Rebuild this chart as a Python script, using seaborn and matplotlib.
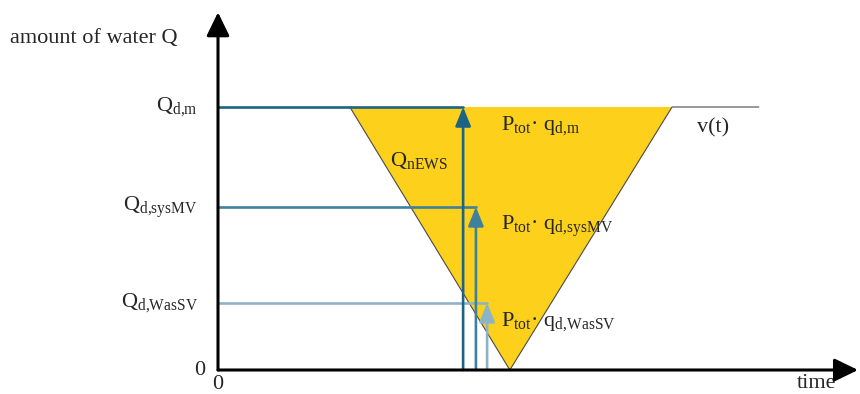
import matplotlib.pyplot as plt
import numpy as np
import pandas as pd
import seaborn as sns

# demand levels on the Q axis (Q_d,m scaled to 10)
level_names = ["d{,}m", "d{,}sysMV", "d{,}WasSV"]
level_q = [10.0, 6.2, 2.55]
level_t = [7.66, 8.06, 8.41]          # time of the vertical arrow for each level
level_colors = ["#1d6482", "#3f809c", "#8db4c6"]

# v(t): falls to zero and rises back again
vt_t = [4.12, 9.12, 14.19, 16.9]
vt_q = [10.0, 0.0, 10.0, 10.0]

t_end = 20.0
q_top = 13.6

sns.set_style("white")
plt.rcParams["font.family"] = ["Liberation Serif", "DejaVu Serif"]
plt.rcParams["mathtext.fontset"] = "custom"
plt.rcParams["mathtext.rm"] = "Liberation Serif"
plt.rcParams["mathtext.it"] = "Liberation Serif:italic"

fig = plt.figure(figsize=(8.6, 3.94), dpi=100)
ax = fig.add_axes([0, 0, 1, 1])
ax.set_xlim(-6.8125, 20.0625)
ax.set_ylim(-0.9125, 14.068)
ax.axis("off")

# yellow triangle under the top level
ax.fill(vt_t[:3], vt_q[:3], color="#fcd01b", zorder=1, lw=0)
sns.lineplot(x=vt_t, y=vt_q, sort=False, estimator=None, color="#4a4a4a",
             lw=0.8, ax=ax, zorder=2)

# horizontal level lines and vertical arrows
for name, q, t, c in zip(level_names, level_q, level_t, level_colors):
    sns.lineplot(x=[0, t], y=[q, q], sort=False, estimator=None, color=c,
                 lw=1.9, ax=ax, zorder=3)
    ax.annotate("", xy=(t, q), xytext=(t, 0),
                arrowprops=dict(arrowstyle="-|>,head_length=1.15,head_width=0.47",
                                mutation_scale=10, color=c, lw=1.9,
                                shrinkA=0, shrinkB=0), zorder=4)
    ax.text(-0.62, q, "Q$_\\mathrm{" + name + "}$", ha="right", va="center",
            fontsize=16)
    ax.text(8.84, q - 0.72, "P$_\\mathrm{tot}$· q$_\\mathrm{" + name + "}$",
            ha="left", va="center", fontsize=16)

# axes with arrow heads
axis_style = dict(arrowstyle="-|>,head_length=1.44,head_width=0.7",
                  mutation_scale=10, color="black", lw=2.2, shrinkA=0, shrinkB=0)
ax.annotate("", xy=(0, q_top), xytext=(0, 0), arrowprops=axis_style, zorder=5)
ax.annotate("", xy=(t_end, 0), xytext=(0, 0), arrowprops=axis_style, zorder=5)

ax.text(-6.5, 12.62, "amount of water Q", ha="left", va="center", fontsize=16)
ax.text(-0.4, 0, "0", ha="right", va="center", fontsize=16)
ax.text(0, -0.55, "0", ha="center", va="center", fontsize=16)
ax.text(18.72, -0.5, "time", ha="center", va="center", fontsize=16)
ax.text(14.97, 9.2, "v(t)", ha="left", va="center", fontsize=16)
ax.text(5.37, 7.98, "Q$_\\mathrm{nEWS}$", ha="left", va="center", fontsize=16)

fig.savefig("out.png", dpi=100)
